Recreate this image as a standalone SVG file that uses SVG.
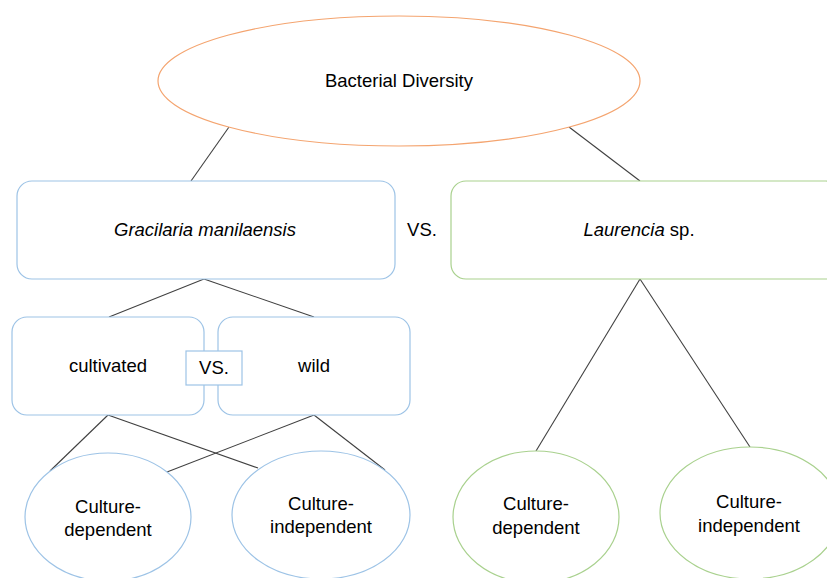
<svg xmlns="http://www.w3.org/2000/svg" width="827" height="578" viewBox="0 0 827 578">
<style>
text{font-family:"Liberation Sans",Arial,sans-serif;font-size:18.5px;fill:#000;text-anchor:middle}
.blue{fill:#fff;stroke:#9DC3E6;stroke-width:1.2}
.green{fill:#fff;stroke:#A9D18E;stroke-width:1.2}
.orange{fill:#fff;stroke:#F4A46F;stroke-width:1.2}
.edge{stroke:#404040;stroke-width:1.1;fill:none}
.it{font-style:italic}
</style>
<rect width="827" height="578" fill="#fff"/>
<g id="connectors">
<line class="edge" x1="229" y1="127" x2="191" y2="181"/>
<line class="edge" x1="569" y1="127" x2="640" y2="181"/>
<line class="edge" x1="204" y1="279" x2="109" y2="317"/>
<line class="edge" x1="204" y1="279" x2="314" y2="317"/>
<line class="edge" x1="108" y1="415" x2="50" y2="471"/>
<line class="edge" x1="108" y1="415" x2="258" y2="468"/>
<line class="edge" x1="314" y1="415" x2="167" y2="472"/>
<line class="edge" x1="314" y1="415" x2="385" y2="470"/>
<line class="edge" x1="640" y1="279" x2="536" y2="451"/>
<line class="edge" x1="640" y1="279" x2="750" y2="447"/>
</g>
<g id="bacterial-diversity">
<ellipse class="orange" cx="399" cy="81" rx="241" ry="65"/>
<text x="399" y="87">Bacterial Diversity</text>
</g>
<g id="gracilaria">
<rect class="blue" x="17" y="181" width="378" height="98" rx="15"/>
<text x="205" y="236" class="it">Gracilaria manilaensis</text>
</g>
<g id="vs-top">
<text x="422" y="236">VS.</text>
</g>
<g id="laurencia">
<rect class="green" x="451" y="181" width="390" height="98" rx="15"/>
<text x="639" y="236"><tspan class="it">Laurencia</tspan> sp.</text>
</g>
<g id="cultivated">
<rect class="blue" x="12" y="317" width="192" height="98" rx="15"/>
<text x="108" y="372">cultivated</text>
</g>
<g id="wild">
<rect class="blue" x="218" y="317" width="192" height="98" rx="15"/>
<text x="314" y="372">wild</text>
</g>
<g id="vs-mid">
<rect class="blue" x="186" y="351" width="56" height="34"/>
<text x="214" y="374">VS.</text>
</g>
<g id="gm-culture-dependent">
<ellipse class="blue" cx="108" cy="517" rx="83" ry="64"/>
<text x="108" y="513">Culture-</text>
<text x="108" y="536">dependent</text>
</g>
<g id="gm-culture-independent">
<ellipse class="blue" cx="321" cy="515" rx="89" ry="64"/>
<text x="321" y="510">Culture-</text>
<text x="321" y="533">independent</text>
</g>
<g id="l-culture-dependent">
<ellipse class="green" cx="536" cy="517" rx="83" ry="66"/>
<text x="536" y="510">Culture-</text>
<text x="536" y="534">dependent</text>
</g>
<g id="l-culture-independent">
<ellipse class="green" cx="750" cy="513" rx="90" ry="66"/>
<text x="749" y="508">Culture-</text>
<text x="749" y="532">independent</text>
</g>
</svg>
